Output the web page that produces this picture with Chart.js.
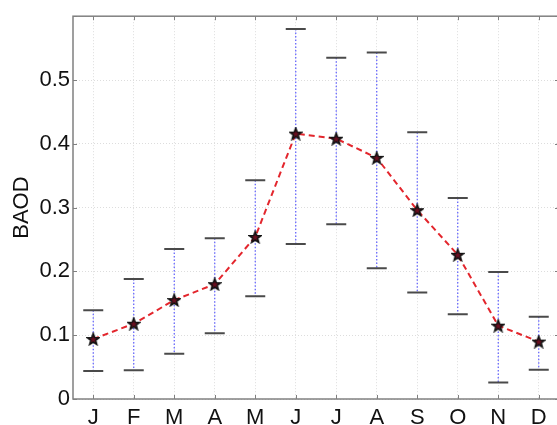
<!DOCTYPE html>
<html lang="en">
<head>
  <meta charset="utf-8">
  <title>BAOD monthly</title>
  <script src="https://cdn.jsdelivr.net/npm/chart.js@4"></script>
</head>
<style>
  html, body { margin: 0; padding: 0; overflow: hidden; background: #fff; }
</style>
<body>
  <canvas id="baod" width="568" height="425"></canvas>
  <script>
    const months = ["J", "F", "M", "A", "M", "J", "J", "A", "S", "O", "N", "D"];
    const meanBaod = [0.094, 0.118, 0.155, 0.180, 0.254, 0.416, 0.408, 0.378, 0.296, 0.226, 0.115, 0.090];
    const upperBaod = [0.139, 0.188, 0.235, 0.252, 0.343, 0.580, 0.535, 0.543, 0.418, 0.315, 0.199, 0.129];
    const lowerBaod = [0.044, 0.045, 0.071, 0.103, 0.161, 0.243, 0.274, 0.205, 0.167, 0.133, 0.026, 0.046];

    // pentagram marker
    function makeStar(size) {
      const c = document.createElement('canvas');
      c.width = size; c.height = size;
      const g = c.getContext('2d');
      const cx = size / 2, cy = size / 2 + 0.5, R = size / 2 - 1, r = R * 0.42;
      g.beginPath();
      for (let i = 0; i < 10; i++) {
        const rad = i % 2 ? r : R;
        const a = -Math.PI / 2 + i * Math.PI / 5;
        const px = cx + rad * Math.cos(a), py = cy + rad * Math.sin(a);
        i ? g.lineTo(px, py) : g.moveTo(px, py);
      }
      g.closePath();
      g.fillStyle = '#6a0f20';
      g.fill();
      g.lineWidth = 1.6;
      g.strokeStyle = '#111';
      g.stroke();
      return c;
    }

    const errorBars = {
      id: 'errorBars',
      beforeDatasetsDraw(chart) {
        const { ctx, scales: { x, y } } = chart;
        ctx.save();
        months.forEach((m, i) => {
          const px = x.getPixelForValue(i);
          const top = y.getPixelForValue(upperBaod[i]);
          const bot = y.getPixelForValue(lowerBaod[i]);
          ctx.setLineDash([1.5, 2]);
          ctx.strokeStyle = '#5c5cff';
          ctx.lineWidth = 1.2;
          ctx.beginPath();
          ctx.moveTo(px, top); ctx.lineTo(px, bot);
          ctx.stroke();
          ctx.setLineDash([]);
          ctx.strokeStyle = '#4a4a4a';
          ctx.lineWidth = 2;
          ctx.beginPath();
          ctx.moveTo(px - 10, top); ctx.lineTo(px + 10, top);
          ctx.moveTo(px - 10, bot); ctx.lineTo(px + 10, bot);
          ctx.stroke();
        });
        ctx.restore();
      },
      afterDraw(chart) {
        // box and inward ticks, matlab style
        const { ctx, chartArea: a, scales: { x, y } } = chart;
        ctx.save();
        ctx.strokeStyle = '#808080';
        ctx.lineWidth = 1;
        ctx.beginPath();
        months.forEach((m, i) => {
          const px = Math.round(x.getPixelForValue(i)) + 0.5;
          ctx.moveTo(px, a.bottom); ctx.lineTo(px, a.bottom - 4);
          ctx.moveTo(px, a.top); ctx.lineTo(px, a.top + 4);
        });
        y.ticks.forEach(t => {
          const py = Math.round(y.getPixelForValue(t.value)) + 0.5;
          ctx.moveTo(a.left, py); ctx.lineTo(a.left + 4, py);
          ctx.moveTo(a.right, py); ctx.lineTo(a.right - 4, py);
        });
        ctx.stroke();
        ctx.lineWidth = 1.5;
        ctx.strokeRect(a.left, a.top, a.right - a.left, a.bottom - a.top);
        ctx.restore();
      }
    };

    new Chart(document.getElementById('baod'), {
      type: 'line',
      data: {
        labels: months,
        datasets: [{
          data: meanBaod,
          borderColor: '#e3262d',
          borderWidth: 2,
          borderDash: [6, 4],
          fill: false,
          tension: 0,
          pointStyle: makeStar(14),
          pointRadius: 7
        }]
      },
      options: {
        responsive: false,
        animation: false,
        layout: { padding: { top: 11, right: 3, left: 9, bottom: 0 } },
        plugins: { legend: { display: false }, tooltip: { enabled: false } },
        scales: {
          x: {
            offset: true,
            grid: { offset: false, color: '#dddddd', drawTicks: false },
            border: { display: false, dash: [1, 2] },
            ticks: { color: '#111', padding: 6, font: { family: 'Liberation Sans', size: 22 }, maxRotation: 0 },
            afterFit(s) { s.height = 26; }
          },
          y: {
            min: 0,
            max: 0.6,
            grid: { color: '#dddddd', drawTicks: false },
            border: { display: false, dash: [1, 2] },
            ticks: {
              stepSize: 0.1,
              color: '#111',
              padding: 3,
              font: { family: 'Liberation Sans', size: 22 },
              callback: v => (v > 0.55 ? '' : (Math.round(v * 10) / 10).toString())
            },
            title: {
              display: true,
              text: 'BAOD',
              color: '#111',
              padding: 0,
              font: { family: 'Liberation Sans', size: 22 }
            },
            afterFit(s) { s.width = 64; }
          }
        }
      },
      plugins: [errorBars]
    });
  </script>
</body>
</html>
